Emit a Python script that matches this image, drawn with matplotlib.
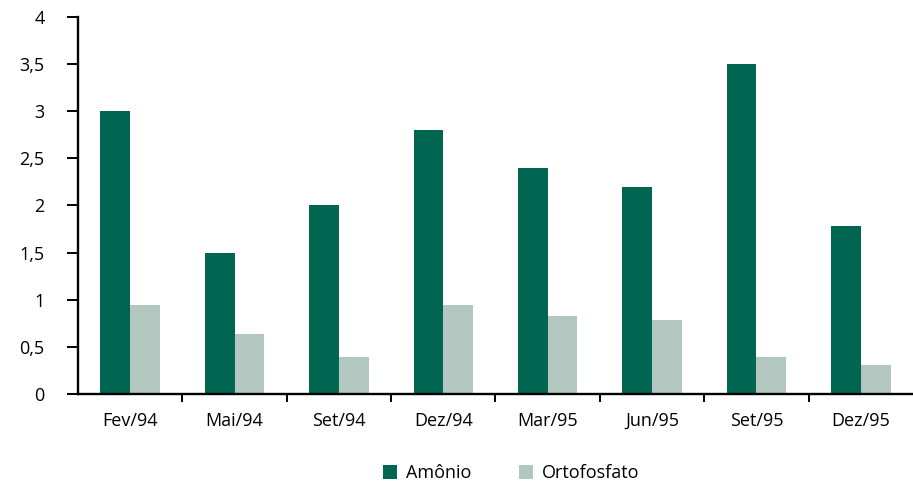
import matplotlib.pyplot as plt
import numpy as np

# ammonium and orthophosphate concentrations per sampling campaign
periodos = ['Fev/94', 'Mai/94', 'Set/94', 'Dez/94', 'Mar/95', 'Jun/95', 'Set/95', 'Dez/95']
amonio = [3.0, 1.5, 2.0, 2.8, 2.4, 2.2, 3.5, 1.78]
ortofosfato = [0.94, 0.64, 0.39, 0.94, 0.83, 0.79, 0.39, 0.31]
yticks = [0, 0.5, 1, 1.5, 2, 2.5, 3, 3.5, 4]
ylabels = ['0', '0,5', '1', '1,5', '2', '2,5', '3', '3,5', '4']

plt.rcParams['font.family'] = ['Open Sans', 'DejaVu Sans']

fig = plt.figure(figsize=(9.13, 4.84), dpi=100)
ax = fig.add_axes([0.0854, 0.186, 0.9146, 0.779])

x = np.arange(len(periodos)) + 0.5
w = 0.285
ax.bar(x - w / 2, amonio, w, color='#006652', label='Amônio')
ax.bar(x + w / 2, ortofosfato, w, color='#b3c7c1', label='Ortofosfato')

ax.set_xlim(0, len(periodos))
ax.set_ylim(0, 4)
ax.set_yticks(yticks)
ax.set_yticklabels(ylabels, fontsize=13)
ax.set_xticks(x)
ax.set_xticklabels(periodos, fontsize=13)
ax.set_xticks(np.arange(1, len(periodos)), minor=True)

ax.tick_params(axis='x', which='major', length=0, pad=13)
ax.tick_params(axis='x', which='minor', length=6, width=1.4, direction='out')
ax.tick_params(axis='y', length=8, width=1.4, direction='out', pad=16)

for side in ['top', 'right']:
    ax.spines[side].set_visible(False)
ax.spines['left'].set_linewidth(1.7)
ax.spines['bottom'].set_linewidth(1.7)

fig.legend(loc='lower center', bbox_to_anchor=(0.56, -0.03), ncol=2, frameon=False,
           fontsize=13, handlelength=0.8, handleheight=0.8, columnspacing=2.6,
           handletextpad=0.5)

fig.savefig('out.png', dpi=100)
